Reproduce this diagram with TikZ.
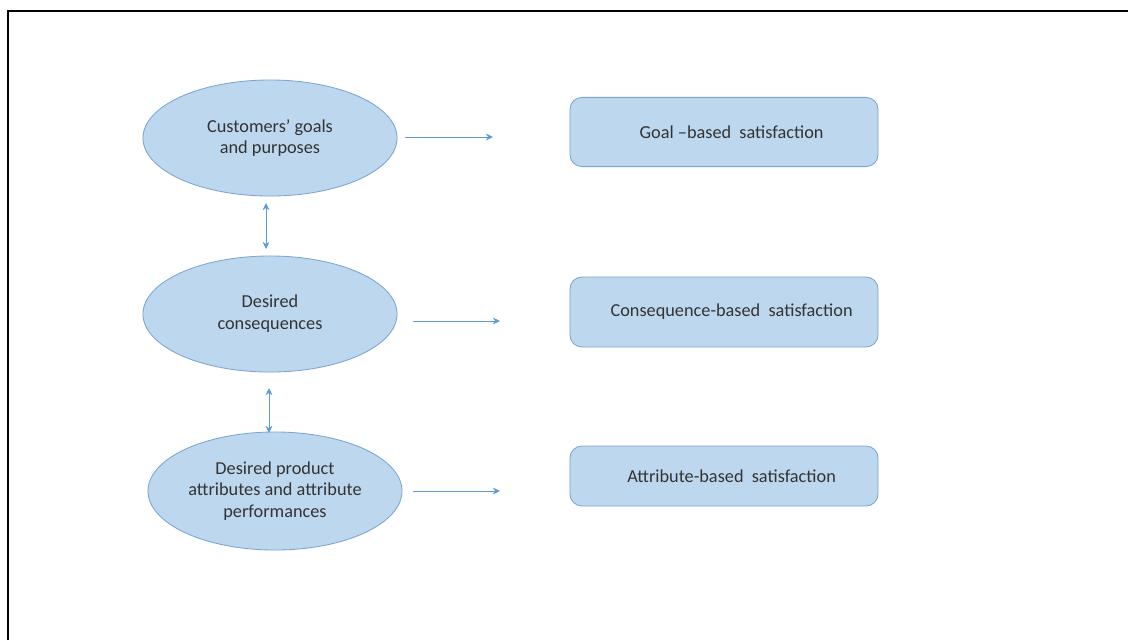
\documentclass[tikz,border=0pt]{standalone}
\usepackage{fontspec}
\setmainfont{Carlito}
\usepackage{xcolor}
\usepackage{tikz}
\usetikzlibrary{arrows.meta, positioning, shapes.geometric}

\definecolor{isian}{HTML}{BDD7EE}
\definecolor{garis}{HTML}{7DA4CF}
\definecolor{panahbiru}{HTML}{5B9BD5}
\definecolor{teks}{HTML}{333333}

\begin{document}
\begin{tikzpicture}[
    x=0.025cm, y=-0.025cm,
    font=\fontsize{13}{15.5}\selectfont,
    elips/.style={ellipse, draw=garis, fill=isian, line width=0.6pt,
                  minimum width=6.35cm, minimum height=2.9cm, inner sep=0pt,
                  align=center, text=teks},
    kotak/.style={draw=garis, fill=isian, rounded corners=0.3cm, line width=0.6pt,
                  minimum width=7.7cm, align=center, text=teks},
    panah/.style={-{Stealth[length=1.8mm, width=1.7mm]}, panahbiru, line width=0.5pt},
    dobel/.style={{Stealth[length=1.8mm, width=1.7mm]}-{Stealth[length=1.8mm, width=1.7mm]},
                  panahbiru, line width=0.5pt}
  ]
    \useasboundingbox (0,0) rectangle (1128,640);
    % bingkai
    \draw[line width=1.5pt] (8,640) -- (8,11) -- (1128,11);

    % elips kiri
    \node[elips] (tujuan) at (270,138) {Customers' goals\\and purposes};
    \node[elips] (akibat) at (270,314) {Desired\\consequences};
    \node[elips, minimum height=2.95cm] (atribut) at (275,491) {Desired product\\attributes and attribute\\performances};

    % kotak kanan
    \node[kotak, minimum height=1.73cm] (puasTujuan) at (724,132) {\hspace*{0.38cm}Goal --based\ \ satisfaction};
    \node[kotak, minimum height=1.75cm] (puasAkibat) at (724,312) {\hspace*{0.38cm}Consequence-based\ \ satisfaction};
    \node[kotak, minimum height=1.5cm] (puasAtribut) at (724,476) {\hspace*{0.38cm}Attribute-based\ \ satisfaction};

    % ujung panah
    \coordinate (t1a) at (405,137);
    \coordinate (t1b) at (493,137);
    \coordinate (t2a) at (413,321);
    \coordinate (t2b) at (500,321);
    \coordinate (t3a) at (413,491);
    \coordinate (t3b) at (500,491);
    \coordinate (v1a) at (266,203);
    \coordinate (v1b) at (266,249);
    \coordinate (v2a) at (269,388);
    \coordinate (v2b) at (269,433);

    \draw[panah] (t1a) -- (t1b);
    \draw[panah] (t2a) -- (t2b);
    \draw[panah] (t3a) -- (t3b);
    \draw[dobel] (v1a) -- (v1b);
    \draw[dobel] (v2a) -- (v2b);
  \end{tikzpicture}
\end{document}
